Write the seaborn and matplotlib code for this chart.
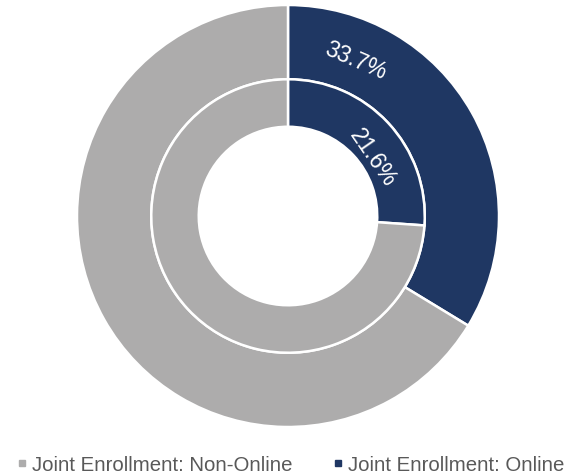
import matplotlib
matplotlib.use("Agg")
import matplotlib.pyplot as plt
import seaborn as sns
import numpy as np
from matplotlib.lines import Line2D

sns.set_theme(style="white")
plt.rcParams["font.family"] = ["Liberation Sans", "DejaVu Sans"]

# data
categories = ["Joint Enrollment: Non-Online", "Joint Enrollment: Online"]
outer_pct = [66.3, 33.7]
inner_pct = [73.9, 26.1]          # share as drawn in the inner ring
outer_label = "33.7%"
inner_label = "21.6%"             # label printed on the inner ring
colors = ["#ADACAC", "#1F3763"]

# where the online labels sit (degrees, counter-clockwise from east)
outer_label_angle = 66.6
inner_label_angle = 34.6

fig = plt.figure(figsize=(5.79, 4.74), dpi=100)
ax = fig.add_axes([(288 - 211) / 579, (258 - 211) / 474, 422 / 579, 422 / 474])

# Online first so it starts at 12 o'clock and runs clockwise
ring_colors = [colors[1], colors[0]]
ax.pie([outer_pct[1], outer_pct[0]], radius=1.0, colors=ring_colors,
       startangle=90, counterclock=False,
       wedgeprops=dict(width=0.352, edgecolor="white", linewidth=1.8))
ax.pie([inner_pct[1], inner_pct[0]], radius=0.648, colors=ring_colors,
       startangle=90, counterclock=False,
       wedgeprops=dict(width=0.225, edgecolor="white", linewidth=1.8))

ax.set_xlim(-1, 1)
ax.set_ylim(-1, 1)
ax.set_aspect("equal")
ax.axis("off")

# labels written along the ring
for txt, ang, r in [(outer_label, outer_label_angle, 0.80),
                    (inner_label, inner_label_angle, 0.485)]:
    t = np.deg2rad(ang)
    ax.text(r * np.cos(t), r * np.sin(t), txt, color="white",
            fontsize=16.5, ha="center", va="center", rotation=ang - 90,
            rotation_mode="anchor")

handles = [Line2D([0], [0], marker="s", linestyle="", markersize=5,
                  markerfacecolor=c, markeredgecolor=c) for c in colors]
fig.legend(handles, categories, loc="lower center", bbox_to_anchor=(0.502, -0.04),
           ncol=2, frameon=False, fontsize=14.7, labelcolor="#595959",
           handletextpad=0.25, columnspacing=2.0, handlelength=0.5)

fig.savefig("out.png", dpi=100)
